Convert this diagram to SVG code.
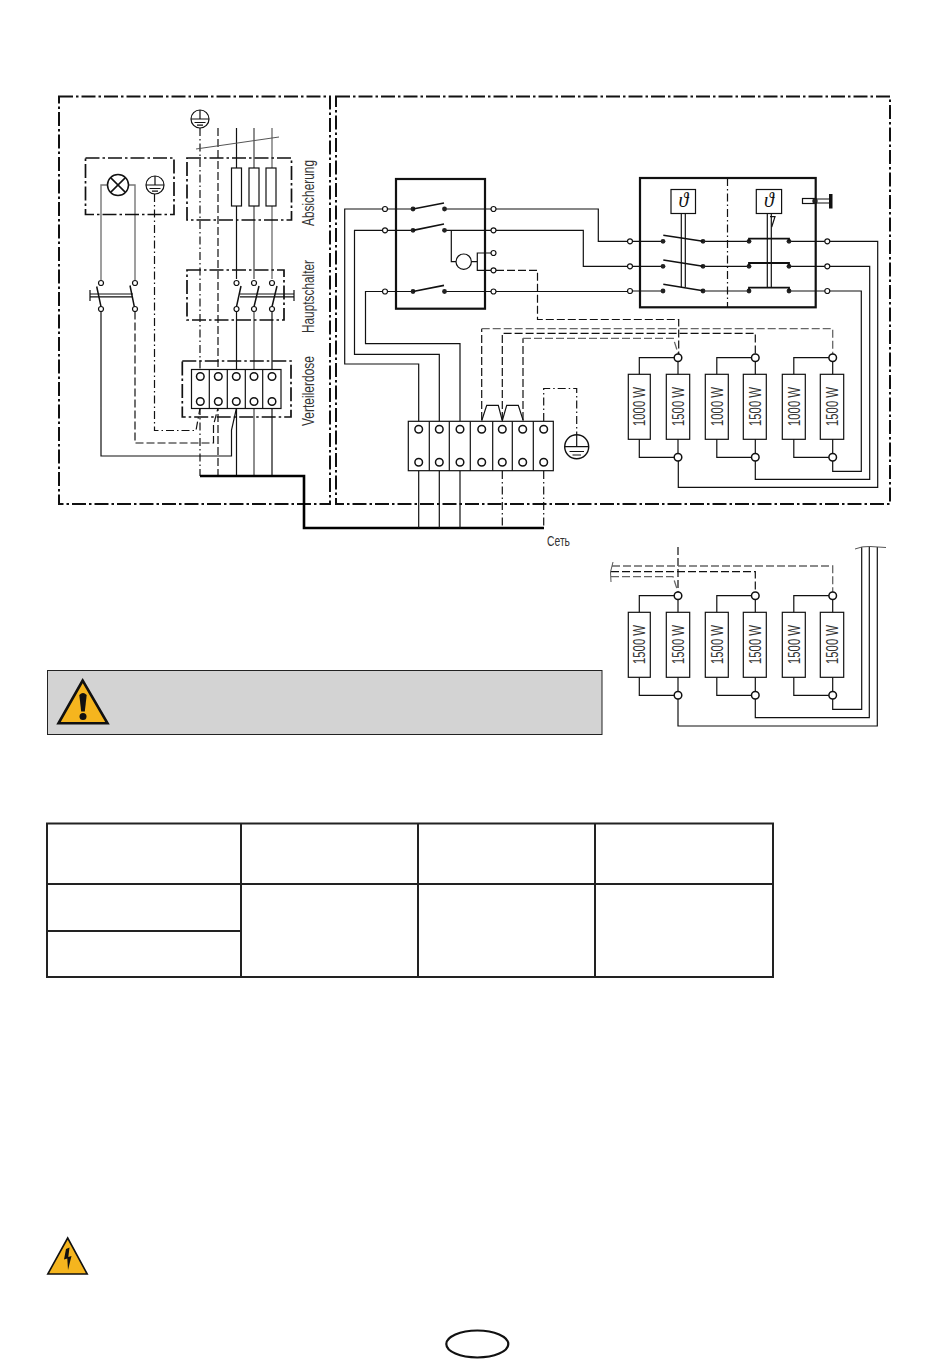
<svg xmlns="http://www.w3.org/2000/svg" width="950" height="1364" viewBox="0 0 950 1364">
<style>
.w{fill:none;stroke:#111;stroke-width:1.2}
.g{fill:none;stroke:#777;stroke-width:1.4}
.b{fill:none;stroke:#111;stroke-width:2.2}
.t{fill:none;stroke:#000;stroke-width:2.6}
.bx{fill:#fff;stroke:#111;stroke-width:1.2}
.dd{fill:none;stroke:#111;stroke-width:2;stroke-dasharray:14 3 2.500 3}
.d1{fill:none;stroke:#111;stroke-width:1.2;stroke-dasharray:8 3 1.500 3}
.d2{fill:none;stroke:#111;stroke-width:1.2;stroke-dasharray:8 3}
.d3{fill:none;stroke:#666;stroke-width:1.3;stroke-dasharray:8 3}
.o{fill:#fff;stroke:#111;stroke-width:1.2}
.k{fill:#222;stroke:none}
.lab{font-family:"Liberation Sans Narrow","Liberation Sans",sans-serif;font-size:16.500px;fill:#333}
.the{font-family:"Liberation Serif",serif;font-style:italic;font-size:20px;fill:#111;text-anchor:middle}
</style>
<defs>
<g id="earth"><circle r="9" class="o"/><path class="w" d="M0 -9V0M-9 0H9M-5.500 3.500H5.500M-3 6.200H3"/></g>
<circle id="c" r="2.500" class="o"/>
<circle id="C" r="3.800" class="o" style="stroke-width:1.5"/>
<circle id="dot" r="2.400" class="k"/>
</defs>

<g id="frame-left"><rect x="59" y="96.500" width="271" height="407.500" class="dd"/></g>
<g id="frame-right"><rect x="336" y="96.500" width="554" height="407.500" class="dd"/></g>

<g id="connectors">
<path class="d1" d="M200 128V476"/>
<path class="d2" d="M218 128V476"/>
<path class="w" d="M236.500 128V279M236.500 312V369M236.500 408V476"/>
<path class="w" d="M254 128V279M254 312V369M254 408V476" style="stroke:#444"/>
<path class="g" d="M272 128V279"/>
<path class="w" d="M272 312V369M272 408V476"/>
<path class="w" d="M196 149L279 137" style="stroke:#555;stroke-width:1"/>
<path class="g" d="M107.500 185H101V280.500M128.500 185H135V280.500"/>
<path class="d1" d="M154.500 194V430.500H196L200 408"/>
<path class="d2" d="M135 311.500V443H213.500V425L218 408"/>
<path class="w" d="M101 311.500V456H231.500V430L236.500 408"/>
<path class="t" d="M200 476H304V528H544"/>
<path class="w" d="M385 209H344.700V364H418.700V421"/>
<path class="w" d="M385 230.300H354.500V354.300H439.300V421"/>
<path class="w" d="M385 291.500H365.500V343.700H460V421"/>
<path class="w" d="M418.700 471V528M439.300 471V528M460 471V528"/>
<path class="d1" d="M502.300 471V528M543.700 471V528"/>
<path class="d1" d="M543.700 421V388.500H576.700V434"/>
<path class="w" d="M481.700 420.700L486.700 405.300H498.300L502.300 420.700L506.700 405.300H518.300L523.300 420.700"/>
<path class="d2" d="M481.700 420V328.700"/>
<path class="d3" d="M481.700 328.700H832.700V354"/>
<path class="d2" d="M502.300 420V333.300H755.300V354"/>
<path class="d2" d="M523 420V338.300"/>
<path class="d3" d="M523 338.300H673.300L678.300 354"/>
<path class="w" d="M387.500 209H413M444.500 209H491M387.500 230.300H413M444.500 230.300H491M387.500 291.500H413M444.500 291.500H491"/>
<path class="w" d="M451.300 230.300V261.700H456M471.400 261.700H477.300M491 253H477.300V270.300H491"/>
<path class="d2" d="M496 270.300H537.500V319.500H678.700V354"/>
<path class="w" d="M496 209H598.300V241.300H627.500M496 230.300H583.300V266.300H627.500M496 291.500H627.500"/>
<path class="w" d="M632.500 241.300H663M632.500 266.300H663M632.500 291H663"/>
<path class="w" d="M703 241.300H749M703 266.300H749M703 291H749"/>
<path class="w" d="M789 241.300H825M789 266.300H825M789 291H825"/>
<path class="w" d="M830 241.300H877.700V487.300H678.300V461"/>
<path class="w" d="M830 266.300H869.700V479.300H755.300V461"/>
<path class="w" d="M830 291H861.300V471.300H832.700V461"/>
<path class="w" d="M639.300 374V357.700H678M678 361V374M716.800 374V357.700H755.300M755.300 361V374M793.800 374V357.700H832.700M832.700 361V374"/>
<path class="w" d="M639.300 439V457.300H678M678 439V454M716.800 439V457.300H755.300M755.300 439V454M793.800 439V457.300H832.700M832.700 439V454"/>
<path class="d2" d="M678 547V592"/>
<path class="d3" d="M612 566H832.700V592"/>
<path class="d2" d="M611 571.700H755.300V592"/>
<path class="d3" d="M611 576.700H673L678 592"/>
<path class="w" d="M613 562Q609 572 611 582" style="stroke:#555;stroke-width:1"/>
<path class="w" d="M639.300 612V595.700H678M678 599V612M716.800 612V595.700H755.300M755.300 599V612M793.800 612V595.700H832.700M832.700 599V612"/>
<path class="w" d="M639.300 677V695.300H678M678 677V692M716.800 677V695.300H755.300M755.300 677V692M793.800 677V695.300H832.700M832.700 677V692"/>
<path class="w" d="M861.700 547V709.300H832.700V699M869.300 547V717.700H755.300V699M877.300 547V726H678V699"/>
<path class="w" d="M855 549Q862 546 870 546.500T886 547.500" style="stroke:#555;stroke-width:1"/>
</g>

<g id="lamp-box">
<rect x="85.500" y="158" width="88.500" height="56.500" class="dd" style="stroke-width:1.700"/>
<circle cx="118" cy="185" r="10.500" class="o" style="stroke-width:1.500"/>
<path class="w" d="M110.600 177.600L125.400 192.400M125.400 177.600L110.600 192.400" style="stroke-width:1.500"/>
<use href="#earth" x="155" y="185"/>
</g>
<g id="earth-top"><use href="#earth" x="200" y="119"/></g>
<g id="earth-main"><circle cx="576.700" cy="446.700" r="12" class="o" style="stroke-width:1.400"/><path class="w" d="M576.700 434.700V446.700M564.700 446.700H588.700M569.500 451.500H584M572.500 455H581"/></g>

<g id="absicherung">
<rect x="187" y="158" width="104.500" height="62" class="dd" style="stroke-width:1.700"/>
<rect x="231.500" y="168" width="10" height="38" class="bx"/>
<rect x="249" y="168" width="10" height="38" class="bx"/>
<rect x="266" y="168" width="10" height="38" class="bx"/>
<text class="lab" transform="translate(314 226) rotate(-90)" textLength="66" lengthAdjust="spacingAndGlyphs">Absicherung</text>
</g>

<g id="hauptschalter">
<rect x="187" y="270" width="97" height="50" class="dd" style="stroke-width:1.700"/>
<use href="#c" x="236.500" y="283"/><use href="#c" x="254" y="283"/><use href="#c" x="272" y="283"/>
<use href="#c" x="236.500" y="309"/><use href="#c" x="254" y="309"/><use href="#c" x="272" y="309"/>
<path class="w" d="M241 286L236.500 306.700M259 286L254 306.700M277 286L272 306.700" style="stroke-width:1.500"/>
<path class="w" d="M240 294H294M240 296.800H294M294 290V301"/>
<text class="lab" transform="translate(314 333) rotate(-90)" textLength="73" lengthAdjust="spacingAndGlyphs">Hauptschalter</text>
</g>

<g id="lamp-switch">
<use href="#c" x="101" y="283"/><use href="#c" x="135" y="283"/>
<use href="#c" x="101" y="309"/><use href="#c" x="135" y="309"/>
<path class="w" d="M96.700 286.500L101 306.700M130 285.500L134.300 306.700" style="stroke-width:1.500"/>
<path class="w" d="M90 294H133M90 296.800H133M90 290V301"/>
</g>

<g id="verteilerdose">
<rect x="182.300" y="361" width="108.700" height="56" class="dd" style="stroke-width:1.700"/>
<rect x="191.500" y="369.500" width="89.500" height="39" class="bx"/>
<path class="w" d="M209.300 369.500V408.500M227.300 369.500V408.500M245.300 369.500V408.500M262.700 369.500V408.500"/>
<use href="#C" x="200.300" y="376.500"/><use href="#C" x="218.300" y="376.500"/><use href="#C" x="236.300" y="376.500"/><use href="#C" x="254" y="376.500"/><use href="#C" x="272" y="376.500"/>
<use href="#C" x="200.300" y="401.500"/><use href="#C" x="218.300" y="401.500"/><use href="#C" x="236.300" y="401.500"/><use href="#C" x="254" y="401.500"/><use href="#C" x="272" y="401.500"/>
<text class="lab" transform="translate(314 426) rotate(-90)" textLength="70" lengthAdjust="spacingAndGlyphs">Verteilerdose</text>
</g>

<g id="switch-box">
<rect x="396" y="179" width="89" height="129.700" class="b"/>
<use href="#c" x="385" y="209"/><use href="#c" x="385" y="230.300"/><use href="#c" x="385" y="291.500"/>
<use href="#c" x="493.500" y="209"/><use href="#c" x="493.500" y="230.300"/><use href="#c" x="493.500" y="253"/><use href="#c" x="493.500" y="270.300"/><use href="#c" x="493.500" y="291.500"/>
<use href="#dot" x="413" y="209"/><use href="#dot" x="444.500" y="209"/>
<use href="#dot" x="413" y="230.300"/><use href="#dot" x="444.500" y="230.300"/>
<use href="#dot" x="413" y="291.500"/><use href="#dot" x="444.500" y="291.500"/>
<path class="w" d="M413 209L444 203M413 230.300L444 224M413 291.500L444 285.300" style="stroke-width:1.700"/>
<circle cx="463.700" cy="261.700" r="7.700" class="o"/>
</g>

<g id="thermostat-box">
<rect x="640" y="178" width="175.700" height="129.300" class="b"/>
<path class="d1" d="M727.500 178V307"/>
<rect x="671" y="189.500" width="24.500" height="24" class="bx"/>
<rect x="756.300" y="189.500" width="25.300" height="24" class="bx"/>
<text class="the" x="683.300" y="207">ϑ</text>
<text class="the" x="769" y="207">ϑ</text>
<path class="w" d="M681.300 213.500V287M685.300 213.500V287M767.300 213.500V287M771.300 213.500V287"/>
<path class="w" d="M770 216.700H775L771.700 227"/>
<use href="#c" x="630" y="241.300"/><use href="#c" x="630" y="266.300"/><use href="#c" x="630" y="291"/>
<use href="#c" x="827.300" y="241.300"/><use href="#c" x="827.300" y="266.300"/><use href="#c" x="827.300" y="291"/>
<use href="#dot" x="663" y="241.300"/><use href="#dot" x="703" y="241.300"/>
<use href="#dot" x="663" y="266.300"/><use href="#dot" x="703" y="266.300"/>
<use href="#dot" x="663" y="291"/><use href="#dot" x="703" y="291"/>
<path class="w" d="M663.300 235.300L703 241.300M663.300 260L703 266.300M663.300 284.300L703 290.700" style="stroke-width:1.600"/>
<use href="#dot" x="749" y="241.300"/><use href="#dot" x="789" y="241.300"/>
<use href="#dot" x="749" y="266.300"/><use href="#dot" x="789" y="266.300"/>
<use href="#dot" x="749" y="291"/><use href="#dot" x="789" y="291"/>
<path class="b" d="M749 241V238.700H789V241M749 265.500V263H789V265.500M749 290.500V287.700H789V290.500" style="stroke-width:1.800"/>
<rect x="802.500" y="198.500" width="13" height="5" class="bx"/>
<circle cx="815" cy="201" r="2.700" class="k"/>
<path class="w" d="M815 199H830M815 203H830"/>
<rect x="829" y="194" width="3.500" height="14.500" fill="#111"/>
</g>

<g id="terminal-main">
<rect x="408.300" y="421.300" width="145" height="49.400" class="bx"/>
<path class="w" d="M429.300 421.300V470.700M449.300 421.300V470.700M470.300 421.300V470.700M492.700 421.300V470.700M512.300 421.300V470.700M533.300 421.300V470.700"/>
<use href="#C" x="418.700" y="429.300"/><use href="#C" x="439.300" y="429.300"/><use href="#C" x="460" y="429.300"/><use href="#C" x="481.700" y="429.300"/><use href="#C" x="502.300" y="429.300"/><use href="#C" x="522.700" y="429.300"/><use href="#C" x="543.700" y="429.300"/>
<use href="#C" x="418.700" y="462.300"/><use href="#C" x="439.300" y="462.300"/><use href="#C" x="460" y="462.300"/><use href="#C" x="481.700" y="462.300"/><use href="#C" x="502.300" y="462.300"/><use href="#C" x="522.700" y="462.300"/><use href="#C" x="543.700" y="462.300"/>
</g>
<g id="net-label"><text class="lab" x="547" y="546" textLength="23" lengthAdjust="spacingAndGlyphs" style="font-size:14.500px">Сеть</text></g>

<g id="heaters-upper">
<rect x="628.300" y="374.300" width="22" height="65" class="bx"/><rect x="666.300" y="374.300" width="23.400" height="65" class="bx"/>
<rect x="705.300" y="374.300" width="23" height="65" class="bx"/><rect x="743.300" y="374.300" width="23" height="65" class="bx"/>
<rect x="782.300" y="374.300" width="23" height="65" class="bx"/><rect x="820.300" y="374.300" width="23.400" height="65" class="bx"/>
<text class="lab" transform="translate(645 426) rotate(-90)" textLength="39" lengthAdjust="spacingAndGlyphs">1000 W</text>
<text class="lab" transform="translate(683.500 426) rotate(-90)" textLength="39" lengthAdjust="spacingAndGlyphs">1500 W</text>
<text class="lab" transform="translate(722.500 426) rotate(-90)" textLength="39" lengthAdjust="spacingAndGlyphs">1000 W</text>
<text class="lab" transform="translate(760.500 426) rotate(-90)" textLength="39" lengthAdjust="spacingAndGlyphs">1500 W</text>
<text class="lab" transform="translate(799.500 426) rotate(-90)" textLength="39" lengthAdjust="spacingAndGlyphs">1000 W</text>
<text class="lab" transform="translate(837.500 426) rotate(-90)" textLength="39" lengthAdjust="spacingAndGlyphs">1500 W</text>
<use href="#C" x="678" y="357.700"/><use href="#C" x="755.300" y="357.700"/><use href="#C" x="832.700" y="357.700"/>
<use href="#C" x="678" y="457.300"/><use href="#C" x="755.300" y="457.300"/><use href="#C" x="832.700" y="457.300"/>
</g>

<g id="heaters-lower">
<rect x="628.300" y="612.300" width="22" height="65" class="bx"/><rect x="666.300" y="612.300" width="23.400" height="65" class="bx"/>
<rect x="705.300" y="612.300" width="23" height="65" class="bx"/><rect x="743.300" y="612.300" width="23" height="65" class="bx"/>
<rect x="782.300" y="612.300" width="23" height="65" class="bx"/><rect x="820.300" y="612.300" width="23.400" height="65" class="bx"/>
<text class="lab" transform="translate(645 664) rotate(-90)" textLength="39" lengthAdjust="spacingAndGlyphs">1500 W</text>
<text class="lab" transform="translate(683.500 664) rotate(-90)" textLength="39" lengthAdjust="spacingAndGlyphs">1500 W</text>
<text class="lab" transform="translate(722.500 664) rotate(-90)" textLength="39" lengthAdjust="spacingAndGlyphs">1500 W</text>
<text class="lab" transform="translate(760.500 664) rotate(-90)" textLength="39" lengthAdjust="spacingAndGlyphs">1500 W</text>
<text class="lab" transform="translate(799.500 664) rotate(-90)" textLength="39" lengthAdjust="spacingAndGlyphs">1500 W</text>
<text class="lab" transform="translate(837.500 664) rotate(-90)" textLength="39" lengthAdjust="spacingAndGlyphs">1500 W</text>
<use href="#C" x="678" y="595.700"/><use href="#C" x="755.300" y="595.700"/><use href="#C" x="832.700" y="595.700"/>
<use href="#C" x="678" y="695.300"/><use href="#C" x="755.300" y="695.300"/><use href="#C" x="832.700" y="695.300"/>
</g>

<g id="warning">
<rect x="47.500" y="670.500" width="554.500" height="64" fill="#d3d3d3" stroke="#222" stroke-width="1"/>
<path d="M82.700 680.500L58.500 723.300H107.500Z" fill="#f5b51e" stroke="#111" stroke-width="2.600"/>
<path d="M79.300 695Q83 691 86.700 695L84.800 711.500H81.200Z" fill="#111"/>
<circle cx="83" cy="716.500" r="3.500" fill="#111"/>
</g>

<g id="table" fill="none" stroke="#222" stroke-width="2">
<rect x="47" y="823.500" width="726" height="153.500"/>
<path d="M47 884H773M47 931H241M241 823.500V977M418 823.500V977M595 823.500V977"/>
</g>

<g id="voltage-sign">
<path d="M67.700 1238L47.800 1274H87.200Z" fill="#f5b51e" stroke="#111" stroke-width="1.600"/>
<path d="M66 1249L64 1259.500L67.300 1258.500L68 1270L71.500 1256L68.300 1257L69.500 1247.500Z" fill="#111"/>
</g>

<g id="page-oval"><ellipse cx="477.300" cy="1344" rx="31" ry="13.500" fill="none" stroke="#111" stroke-width="2.200"/></g>
</svg>
